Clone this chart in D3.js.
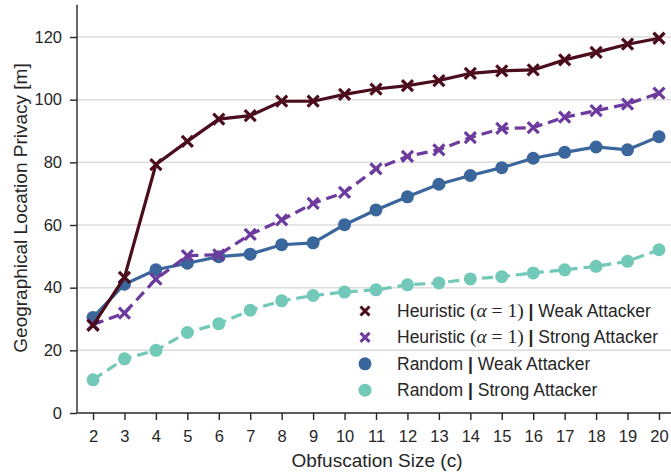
<!DOCTYPE html>
<html>
<head>
<meta charset="utf-8">
<script src="https://cdn.jsdelivr.net/npm/d3@7"></script>
<style>
  body { margin: 0; background: #fff; }
  svg text { font-family: "Liberation Sans", Arial, sans-serif; fill: #262626; }
</style>
</head>
<body>
<div id="chart"></div>
<script>
// data
var sizes = [2, 3, 4, 5, 6, 7, 8, 9, 10, 11, 12, 13, 14, 15, 16, 17, 18, 19, 20];
var heuristicWeak = [28, 43.3, 79.3, 86.7, 93.8, 94.9, 99.5, 99.5, 101.7, 103.4, 104.5, 106.1, 108.4, 109.2, 109.5, 112.7, 115.1, 117.7, 119.6];
var heuristicStrong = [28.2, 31.9, 42.7, 50.2, 50.5, 57.0, 61.6, 66.9, 70.4, 77.9, 81.9, 84.0, 87.9, 90.8, 91.1, 94.4, 96.5, 98.6, 102.1];
var randomWeak = [30.5, 41.1, 45.7, 47.8, 49.9, 50.7, 53.7, 54.3, 60.1, 64.8, 69.0, 73.0, 75.8, 78.3, 81.3, 83.2, 84.9, 84.0, 88.2];
var randomStrong = [10.6, 17.3, 20.0, 25.7, 28.5, 32.8, 35.8, 37.5, 38.6, 39.3, 40.9, 41.5, 42.8, 43.5, 44.7, 45.7, 46.8, 48.4, 52.1];
var yTicks = [0, 20, 40, 60, 80, 100, 120];

var series = [
  { name: "Heuristic", alpha: true, attacker: "Weak Attacker", values: heuristicWeak, color: "#4b0c1b", marker: "x", dash: null },
  { name: "Heuristic", alpha: true, attacker: "Strong Attacker", values: heuristicStrong, color: "#6c3b9d", marker: "x", dash: "11,6" },
  { name: "Random", alpha: false, attacker: "Weak Attacker", values: randomWeak, color: "#3b669b", marker: "o", dash: null },
  { name: "Random", alpha: false, attacker: "Strong Attacker", values: randomStrong, color: "#72c9b8", marker: "o", dash: "11,6" }
];
// draw order in the picture: teal, blue, purple, maroon on top
var drawOrder = [3, 2, 1, 0];

function init() {
    var width = 671, height = 472;
    var svg = d3.select("#chart").append("svg")
        .attr("width", width)
        .attr("height", height);

    var x = d3.scaleLinear().domain([1.5, 20.5]).range([77.3, 674.7]);
    var y = d3.scaleLinear().domain([0, 120]).range([413, 37]);

    // gridlines
    svg.append("g").selectAll("line")
        .data(yTicks.filter(function (d) { return d > 0; }))
        .enter().append("line")
        .attr("x1", 77).attr("x2", width)
        .attr("y1", function (d) { return y(d); })
        .attr("y2", function (d) { return y(d); })
        .attr("stroke", "#dcdcdc")
        .attr("stroke-width", 1.5);

    // axes
    var xAxis = svg.append("g")
        .attr("transform", "translate(0,413)")
        .call(d3.axisBottom(x).tickValues(sizes).tickSize(7).tickPadding(10).tickSizeOuter(0));
    var yAxis = svg.append("g")
        .attr("transform", "translate(77,0)")
        .call(d3.axisLeft(y).tickValues(yTicks).tickSize(7).tickPadding(8).tickSizeOuter(0));
    yAxis.select(".domain").attr("d", "M0," + y(130.3) + "V413");
    xAxis.select(".domain").attr("d", "M77.3,0H" + width);
    [xAxis, yAxis].forEach(function (a) {
        a.selectAll(".domain, .tick line").attr("stroke", "#262626").attr("stroke-width", 1.4);
        a.selectAll(".tick text").attr("font-size", 16.5).attr("fill", "#262626");
    });

    // axis titles
    svg.append("text")
        .attr("x", 377).attr("y", 467)
        .attr("text-anchor", "middle")
        .attr("font-size", 19)
        .text("Obfuscation Size (c)");
    svg.append("text")
        .attr("transform", "translate(26.5,208) rotate(-90)")
        .attr("text-anchor", "middle")
        .attr("font-size", 19)
        .text("Geographical Location Privacy [m]");

    var line = d3.line()
        .x(function (d, i) { return x(sizes[i]); })
        .y(function (d) { return y(d); });

    drawOrder.forEach(function (k) {
        var s = series[k];
        var g = svg.append("g");
        g.append("path")
            .datum(s.values)
            .attr("d", line)
            .attr("fill", "none")
            .attr("stroke", s.color)
            .attr("stroke-width", 3.2)
            .attr("stroke-dasharray", s.dash);
        if (s.marker === "o") {
            g.selectAll("circle").data(s.values).enter().append("circle")
                .attr("cx", function (d, i) { return x(sizes[i]); })
                .attr("cy", function (d) { return y(d); })
                .attr("r", 6.5)
                .attr("fill", s.color);
        } else {
            g.selectAll("path.mk").data(s.values).enter().append("path")
                .attr("class", "mk")
                .attr("transform", function (d, i) { return "translate(" + x(sizes[i]) + "," + y(d) + ")"; })
                .attr("d", "M-5.5,-5.5L5.5,5.5M-5.5,5.5L5.5,-5.5")
                .attr("stroke", s.color)
                .attr("stroke-width", 3.2);
        }
    });

    // legend
    var legend = svg.append("g").attr("transform", "translate(365,311)");
    series.forEach(function (s, i) {
        var row = legend.append("g").attr("transform", "translate(0," + (i * 26.4) + ")");
        if (s.marker === "o") {
            row.append("circle").attr("r", 6.5).attr("fill", s.color);
        } else {
            row.append("path")
                .attr("d", "M-4.5,-4.5L4.5,4.5M-4.5,4.5L4.5,-4.5")
                .attr("stroke", s.color)
                .attr("stroke-width", 3);
        }
        var t = row.append("text")
            .attr("x", 32).attr("y", 6)
            .attr("font-size", 17.5);
        t.append("tspan").text(s.name + " ");
        if (s.alpha) {
            t.append("tspan").attr("font-family", "Liberation Serif, serif").attr("font-size", 19.5).text("(");
            t.append("tspan").attr("font-family", "Liberation Serif, serif").attr("font-size", 19.5).attr("font-style", "italic").text("α");
            t.append("tspan").attr("font-family", "Liberation Serif, serif").attr("font-size", 19.5).text(" = 1) ");
        }
        t.append("tspan").attr("font-weight", "bold").text("|");
        t.append("tspan").text(" " + s.attacker);
    });
}
window.onload = init;
</script>
</body>
</html>
